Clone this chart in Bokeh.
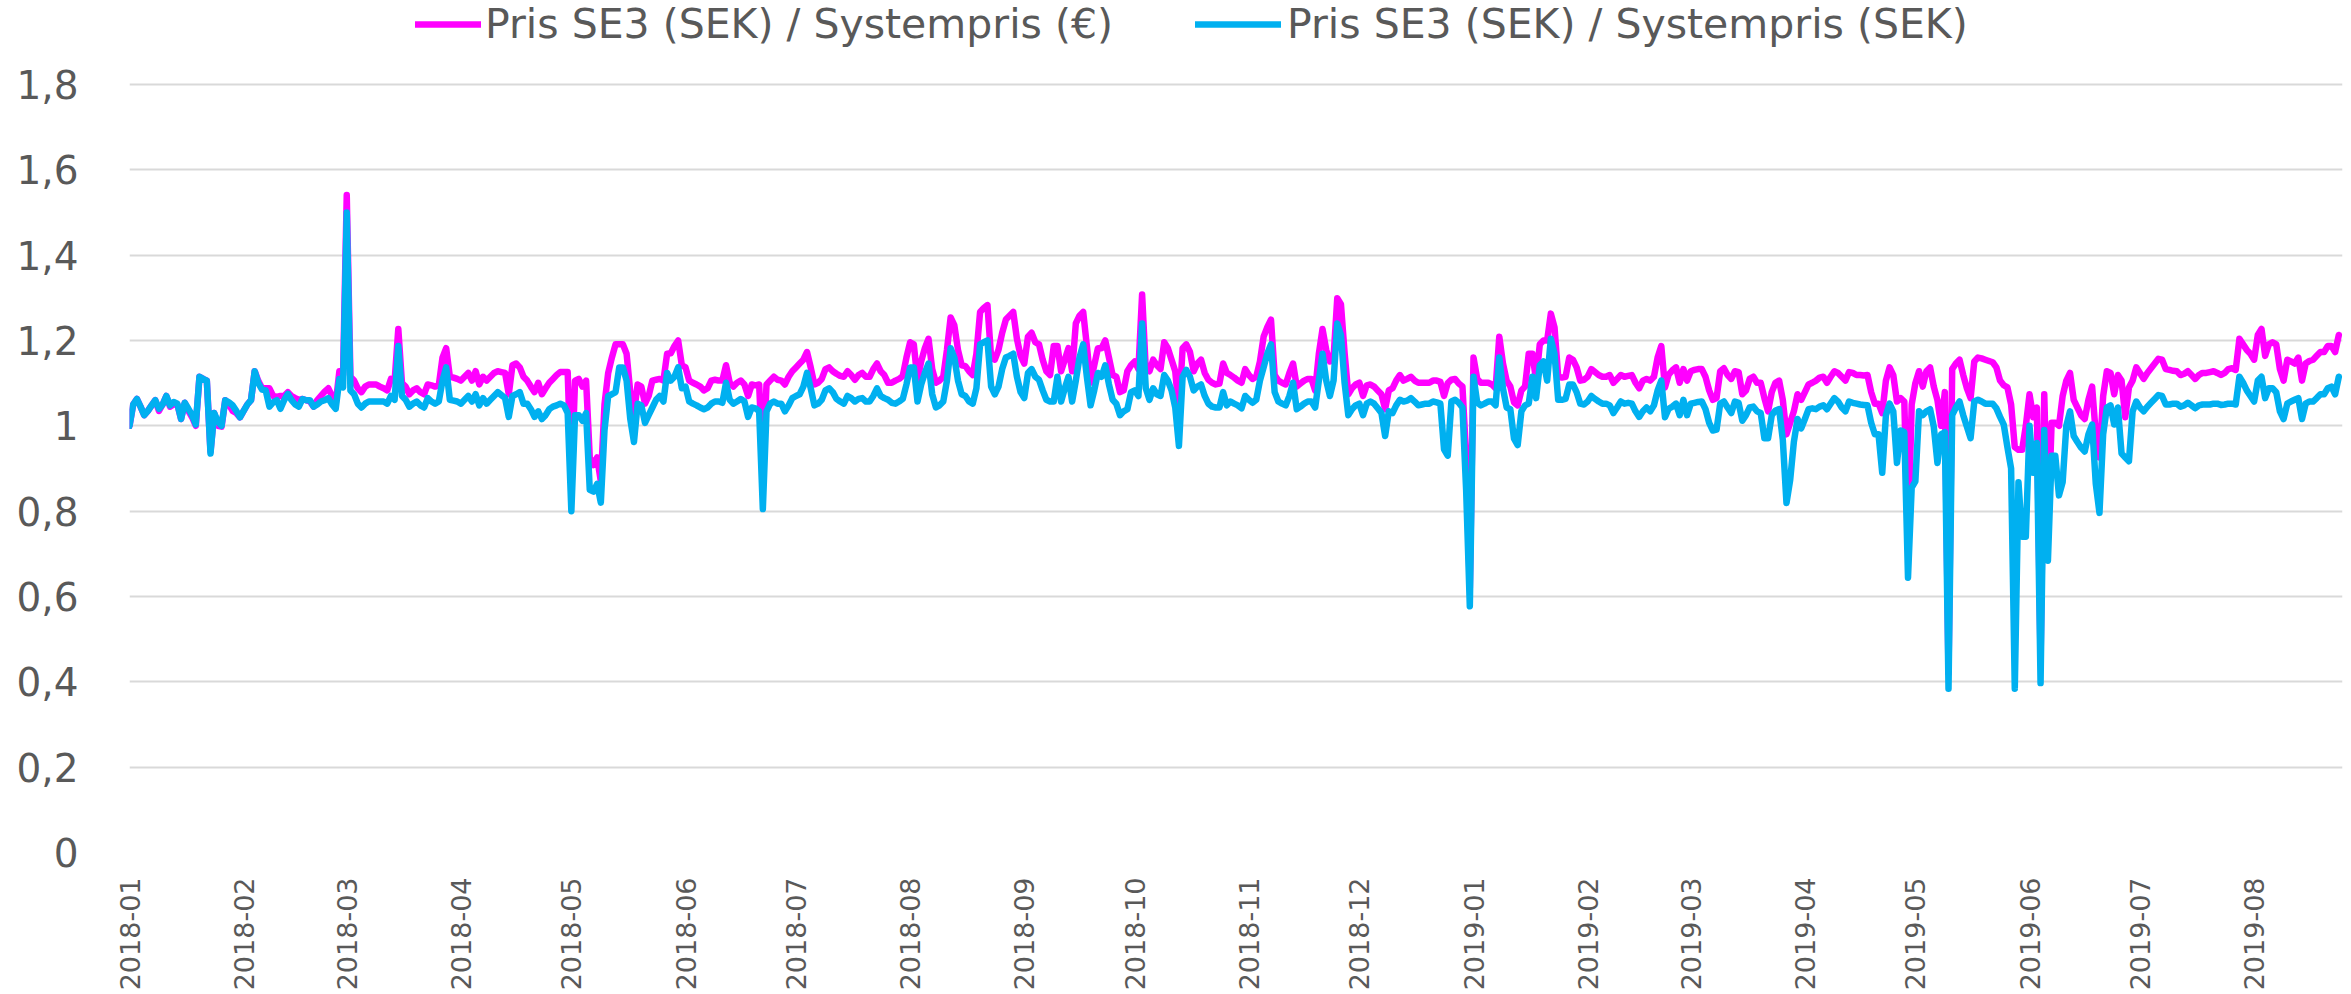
import numpy as np
import pandas as pd
from bokeh.plotting import figure
from bokeh.models import (Range1d, FixedTicker, CustomJSTickFormatter, Legend, LegendItem)
from bokeh.embed import file_html
from bokeh.resources import INLINE

# ---------------- data (daily ratios) ----------------
month_labels = ["2018-01", "2018-02", "2018-03", "2018-04", "2018-05", "2018-06",
                "2018-07", "2018-08", "2018-09", "2018-10", "2018-11", "2018-12",
                "2019-01", "2019-02", "2019-03", "2019-04", "2019-05", "2019-06",
                "2019-07", "2019-08"]
y_ticks = [0, 0.2, 0.4, 0.6, 0.8, 1.0, 1.2, 1.4, 1.6, 1.8]
series_names = ["Pris SE3 (SEK) / Systempris (€)", "Pris SE3 (SEK) / Systempris (SEK)"]

# Pris SE3 (SEK) / Systempris (EUR)  -- magenta
eur_2018_01 = [1.00, 1.05, 1.063, 1.045, 1.025, 1.035, 1.048, 1.06, 1.035, 1.05, 1.07, 1.045, 1.05, 1.05, 1.016, 1.054, 1.035, 1.02, 1.0, 1.115, 1.11, 1.106, 0.94, 1.03, 1.0, 0.998, 1.06, 1.05, 1.035, 1.03, 1.02]
eur_2018_02 = [1.035, 1.05, 1.06, 1.128, 1.105, 1.088, 1.088, 1.088, 1.07, 1.068, 1.07, 1.07, 1.079, 1.07, 1.065, 1.061, 1.063, 1.06, 1.057, 1.045, 1.06, 1.07, 1.08, 1.088, 1.07, 1.052, 1.128, 1.12]
eur_2018_03 = [1.541, 1.115, 1.106, 1.088, 1.079, 1.092, 1.097, 1.097, 1.097, 1.092, 1.088, 1.083, 1.11, 1.106, 1.227, 1.10, 1.092, 1.074, 1.083, 1.088, 1.079, 1.074, 1.097, 1.095, 1.092, 1.095, 1.16, 1.182, 1.115, 1.113, 1.11]
eur_2018_04 = [1.106, 1.115, 1.124, 1.106, 1.128, 1.097, 1.115, 1.106, 1.115, 1.124, 1.128, 1.126, 1.124, 1.074, 1.142, 1.146, 1.137, 1.115, 1.106, 1.092, 1.079, 1.101, 1.074, 1.088, 1.101, 1.11, 1.119, 1.126, 1.126, 1.126]
eur_2018_05 = [0.86, 1.106, 1.11, 1.092, 1.106, 0.926, 0.908, 0.926, 0.87, 1.05, 1.124, 1.16, 1.191, 1.191, 1.191, 1.169, 1.079, 1.03, 1.097, 1.092, 1.052, 1.07, 1.106, 1.108, 1.11, 1.106, 1.169, 1.17, 1.187, 1.2, 1.142]
eur_2018_06 = [1.137, 1.106, 1.101, 1.097, 1.092, 1.083, 1.088, 1.106, 1.108, 1.106, 1.106, 1.142, 1.101, 1.092, 1.101, 1.106, 1.097, 1.07, 1.097, 1.095, 1.097, 0.90, 1.097, 1.106, 1.115, 1.108, 1.106, 1.097, 1.115, 1.128]
eur_2018_07 = [1.137, 1.146, 1.155, 1.173, 1.137, 1.097, 1.101, 1.11, 1.133, 1.137, 1.128, 1.122, 1.117, 1.115, 1.128, 1.119, 1.108, 1.119, 1.124, 1.115, 1.115, 1.133, 1.146, 1.128, 1.119, 1.101, 1.101, 1.106, 1.11, 1.117, 1.16]
eur_2018_08 = [1.196, 1.191, 1.106, 1.151, 1.182, 1.204, 1.133, 1.101, 1.106, 1.115, 1.178, 1.254, 1.236, 1.178, 1.142, 1.14, 1.128, 1.119, 1.169, 1.267, 1.276, 1.283, 1.16, 1.155, 1.178, 1.218, 1.249, 1.258, 1.267, 1.204, 1.164]
eur_2018_09 = [1.146, 1.209, 1.218, 1.196, 1.191, 1.155, 1.128, 1.119, 1.187, 1.187, 1.128, 1.155, 1.182, 1.128, 1.24, 1.258, 1.267, 1.187, 1.101, 1.142, 1.182, 1.182, 1.2, 1.16, 1.119, 1.115, 1.079, 1.083, 1.128, 1.142]
eur_2018_10 = [1.151, 1.133, 1.308, 1.133, 1.128, 1.155, 1.142, 1.133, 1.196, 1.182, 1.155, 1.128, 1.034, 1.182, 1.191, 1.173, 1.128, 1.146, 1.155, 1.124, 1.108, 1.101, 1.097, 1.099, 1.146, 1.124, 1.119, 1.113, 1.106, 1.101, 1.133]
eur_2018_11 = [1.119, 1.11, 1.115, 1.151, 1.209, 1.231, 1.249, 1.119, 1.106, 1.101, 1.097, 1.124, 1.146, 1.092, 1.099, 1.106, 1.11, 1.11, 1.083, 1.169, 1.227, 1.178, 1.151, 1.16, 1.299, 1.285, 1.17, 1.074, 1.088, 1.097]
eur_2018_12 = [1.101, 1.07, 1.095, 1.097, 1.092, 1.083, 1.074, 1.039, 1.083, 1.088, 1.106, 1.119, 1.106, 1.11, 1.115, 1.106, 1.101, 1.101, 1.101, 1.101, 1.106, 1.106, 1.103, 1.07, 1.10, 1.108, 1.11, 1.099, 1.092, 0.93, 0.62]
eur_2019_01 = [1.16, 1.11, 1.101, 1.101, 1.101, 1.097, 1.088, 1.209, 1.146, 1.106, 1.092, 1.055, 1.048, 1.083, 1.092, 1.169, 1.169, 1.106, 1.191, 1.2, 1.2, 1.263, 1.231, 1.115, 1.113, 1.115, 1.16, 1.155, 1.137, 1.106, 1.108]
eur_2019_02 = [1.115, 1.133, 1.126, 1.119, 1.115, 1.115, 1.119, 1.101, 1.11, 1.119, 1.115, 1.117, 1.119, 1.101, 1.088, 1.106, 1.11, 1.106, 1.115, 1.16, 1.187, 1.09, 1.12, 1.13, 1.137, 1.101, 1.133, 1.106]
eur_2019_03 = [1.128, 1.131, 1.133, 1.133, 1.115, 1.083, 1.061, 1.065, 1.128, 1.135, 1.119, 1.11, 1.128, 1.126, 1.074, 1.083, 1.11, 1.115, 1.101, 1.101, 1.065, 1.034, 1.079, 1.101, 1.106, 1.061, 0.98, 1.007, 1.034, 1.074, 1.061]
eur_2019_04 = [1.079, 1.097, 1.101, 1.106, 1.113, 1.115, 1.101, 1.115, 1.128, 1.124, 1.115, 1.106, 1.126, 1.124, 1.119, 1.119, 1.118, 1.119, 1.079, 1.052, 1.052, 1.03, 1.106, 1.137, 1.119, 1.057, 1.065, 1.057, 0.72, 1.05]
eur_2019_05 = [1.10, 1.128, 1.092, 1.128, 1.137, 1.092, 1.06, 1.0, 1.079, 0.42, 1.133, 1.146, 1.155, 1.119, 1.088, 1.065, 1.151, 1.16, 1.158, 1.155, 1.152, 1.149, 1.137, 1.106, 1.095, 1.09, 1.05, 0.95, 0.944, 0.944, 1.0]
eur_2019_06 = [1.074, 1.02, 1.043, 0.45, 1.074, 0.75, 1.007, 1.007, 1.0, 1.07, 1.106, 1.124, 1.061, 1.043, 1.025, 1.016, 1.061, 1.092, 0.98, 0.926, 1.07, 1.128, 1.124, 1.074, 1.119, 1.106, 1.02, 1.09, 1.106, 1.137]
eur_2019_07 = [1.124, 1.11, 1.124, 1.135, 1.146, 1.157, 1.155, 1.133, 1.131, 1.129, 1.128, 1.119, 1.122, 1.128, 1.119, 1.11, 1.119, 1.124, 1.124, 1.126, 1.128, 1.124, 1.119, 1.124, 1.133, 1.135, 1.131, 1.204, 1.191, 1.178, 1.169]
eur_2019_08 = [1.155, 1.213, 1.227, 1.164, 1.191, 1.196, 1.191, 1.133, 1.106, 1.155, 1.151, 1.146, 1.16, 1.106, 1.146, 1.152, 1.155, 1.164, 1.173, 1.173, 1.187, 1.187, 1.173, 1.213]

# Pris SE3 (SEK) / Systempris (SEK)  -- blue
sek_2018_01 = [1.00, 1.05, 1.063, 1.045, 1.025, 1.035, 1.048, 1.06, 1.04, 1.05, 1.07, 1.048, 1.056, 1.052, 1.016, 1.054, 1.04, 1.025, 1.003, 1.115, 1.11, 1.106, 0.935, 1.03, 1.01, 1.00, 1.06, 1.055, 1.048, 1.035, 1.02]
sek_2018_02 = [1.035, 1.05, 1.06, 1.128, 1.10, 1.085, 1.083, 1.045, 1.055, 1.06, 1.04, 1.06, 1.075, 1.06, 1.05, 1.045, 1.063, 1.06, 1.06, 1.045, 1.05, 1.057, 1.06, 1.065, 1.05, 1.04, 1.11, 1.09]
sek_2018_03 = [1.50, 1.083, 1.074, 1.052, 1.043, 1.052, 1.057, 1.057, 1.057, 1.057, 1.057, 1.052, 1.07, 1.061, 1.187, 1.07, 1.061, 1.045, 1.052, 1.057, 1.048, 1.043, 1.065, 1.057, 1.052, 1.057, 1.106, 1.137, 1.061, 1.059, 1.057]
sek_2018_04 = [1.052, 1.061, 1.07, 1.057, 1.074, 1.048, 1.065, 1.052, 1.061, 1.07, 1.079, 1.072, 1.065, 1.021, 1.07, 1.074, 1.079, 1.052, 1.052, 1.039, 1.021, 1.034, 1.016, 1.025, 1.039, 1.045, 1.048, 1.052, 1.048, 1.03]
sek_2018_05 = [0.80, 1.025, 1.025, 1.012, 1.03, 0.85, 0.846, 0.864, 0.82, 0.99, 1.07, 1.074, 1.079, 1.137, 1.137, 1.106, 1.016, 0.962, 1.052, 1.048, 1.007, 1.025, 1.043, 1.061, 1.07, 1.057, 1.124, 1.106, 1.115, 1.137, 1.088]
sek_2018_06 = [1.092, 1.057, 1.052, 1.048, 1.043, 1.039, 1.043, 1.052, 1.057, 1.057, 1.054, 1.101, 1.061, 1.052, 1.057, 1.063, 1.057, 1.021, 1.043, 1.041, 1.034, 0.805, 1.034, 1.052, 1.057, 1.052, 1.052, 1.034, 1.048, 1.065]
sek_2018_07 = [1.07, 1.074, 1.092, 1.124, 1.088, 1.048, 1.052, 1.061, 1.083, 1.088, 1.079, 1.063, 1.057, 1.052, 1.07, 1.065, 1.057, 1.063, 1.065, 1.057, 1.057, 1.07, 1.088, 1.07, 1.065, 1.061, 1.054, 1.052, 1.057, 1.063, 1.097]
sek_2018_08 = [1.137, 1.137, 1.057, 1.097, 1.124, 1.146, 1.074, 1.043, 1.048, 1.057, 1.106, 1.182, 1.16, 1.106, 1.074, 1.07, 1.057, 1.052, 1.088, 1.191, 1.196, 1.2, 1.092, 1.074, 1.092, 1.133, 1.16, 1.164, 1.169, 1.115, 1.079]
sek_2018_09 = [1.065, 1.124, 1.133, 1.115, 1.108, 1.083, 1.061, 1.057, 1.057, 1.115, 1.057, 1.088, 1.115, 1.057, 1.106, 1.16, 1.191, 1.115, 1.048, 1.083, 1.124, 1.115, 1.142, 1.097, 1.061, 1.052, 1.025, 1.034, 1.039, 1.079]
sek_2018_10 = [1.083, 1.07, 1.24, 1.088, 1.061, 1.088, 1.074, 1.07, 1.119, 1.106, 1.083, 1.043, 0.953, 1.115, 1.131, 1.115, 1.083, 1.092, 1.097, 1.07, 1.052, 1.045, 1.043, 1.043, 1.079, 1.048, 1.057, 1.052, 1.048, 1.041, 1.07]
sek_2018_11 = [1.061, 1.054, 1.061, 1.106, 1.137, 1.169, 1.191, 1.079, 1.057, 1.052, 1.048, 1.07, 1.101, 1.039, 1.045, 1.052, 1.057, 1.057, 1.043, 1.106, 1.169, 1.106, 1.07, 1.106, 1.24, 1.213, 1.10, 1.025, 1.039, 1.048]
sek_2018_12 = [1.052, 1.025, 1.052, 1.057, 1.052, 1.041, 1.03, 0.976, 1.034, 1.03, 1.048, 1.061, 1.057, 1.059, 1.065, 1.057, 1.048, 1.05, 1.052, 1.052, 1.057, 1.055, 1.052, 0.945, 0.93, 1.057, 1.061, 1.054, 1.043, 0.85, 0.577]
sek_2019_01 = [1.115, 1.055, 1.048, 1.052, 1.057, 1.057, 1.048, 1.16, 1.088, 1.043, 1.039, 0.97, 0.955, 1.034, 1.048, 1.052, 1.115, 1.065, 1.142, 1.151, 1.106, 1.204, 1.169, 1.061, 1.061, 1.063, 1.097, 1.097, 1.079, 1.052, 1.05]
sek_2019_02 = [1.057, 1.07, 1.063, 1.057, 1.052, 1.052, 1.048, 1.03, 1.043, 1.057, 1.052, 1.054, 1.052, 1.034, 1.021, 1.034, 1.043, 1.034, 1.048, 1.083, 1.106, 1.02, 1.04, 1.045, 1.052, 1.025, 1.061, 1.025]
sek_2019_03 = [1.052, 1.054, 1.056, 1.057, 1.039, 1.007, 0.989, 0.991, 1.052, 1.057, 1.043, 1.03, 1.057, 1.054, 1.012, 1.025, 1.043, 1.045, 1.034, 1.03, 0.971, 0.971, 1.025, 1.036, 1.039, 0.967, 0.819, 0.873, 0.962, 1.016, 0.994]
sek_2019_04 = [1.016, 1.039, 1.041, 1.039, 1.045, 1.048, 1.039, 1.052, 1.065, 1.057, 1.043, 1.034, 1.057, 1.054, 1.052, 1.05, 1.049, 1.048, 1.007, 0.98, 0.98, 0.89, 1.025, 1.052, 1.034, 0.913, 0.989, 0.985, 0.644, 0.855]
sek_2019_05 = [0.87, 1.034, 1.025, 1.034, 1.039, 0.998, 0.913, 0.98, 0.985, 0.384, 1.025, 1.043, 1.057, 1.025, 0.998, 0.971, 1.057, 1.061, 1.057, 1.052, 1.052, 1.052, 1.041, 1.021, 1.003, 0.95, 0.90, 0.384, 0.868, 0.74, 0.74]
sek_2019_06 = [1.0, 0.89, 0.96, 0.397, 0.99, 0.684, 0.93, 0.93, 0.837, 0.868, 1.0, 1.034, 0.976, 0.962, 0.949, 0.94, 0.98, 1.003, 0.864, 0.796, 0.98, 1.043, 1.048, 1.003, 1.043, 0.935, 0.926, 0.917, 1.034, 1.057]
sek_2019_07 = [1.043, 1.034, 1.045, 1.054, 1.063, 1.072, 1.07, 1.05, 1.05, 1.052, 1.052, 1.045, 1.048, 1.054, 1.048, 1.041, 1.048, 1.05, 1.05, 1.05, 1.052, 1.052, 1.049, 1.05, 1.052, 1.052, 1.05, 1.115, 1.101, 1.083, 1.07]
sek_2019_08 = [1.057, 1.106, 1.115, 1.065, 1.088, 1.088, 1.079, 1.034, 1.016, 1.052, 1.057, 1.061, 1.065, 1.016, 1.052, 1.057, 1.057, 1.065, 1.074, 1.074, 1.088, 1.092, 1.074, 1.115]

eur_months = [eur_2018_01, eur_2018_02, eur_2018_03, eur_2018_04, eur_2018_05, eur_2018_06,
              eur_2018_07, eur_2018_08, eur_2018_09, eur_2018_10, eur_2018_11, eur_2018_12,
              eur_2019_01, eur_2019_02, eur_2019_03, eur_2019_04, eur_2019_05, eur_2019_06,
              eur_2019_07, eur_2019_08]
sek_months = [sek_2018_01, sek_2018_02, sek_2018_03, sek_2018_04, sek_2018_05, sek_2018_06,
              sek_2018_07, sek_2018_08, sek_2018_09, sek_2018_10, sek_2018_11, sek_2018_12,
              sek_2019_01, sek_2019_02, sek_2019_03, sek_2019_04, sek_2019_05, sek_2019_06,
              sek_2019_07, sek_2019_08]


def build(months_vals):
    xs, ys = [], []
    for lab, vals in zip(month_labels, months_vals):
        start = pd.Timestamp(lab + "-01")
        for i, v in enumerate(vals):
            xs.append(start + pd.Timedelta(days=i))
            ys.append(v)
    return xs, ys


x_eur, y_eur = build(eur_months)
x_sek, y_sek = build(sek_months)

# ---------------- figure ----------------
TEXT = "#595959"
FONT = "DejaVu Sans"

# The page template puts the canvas at (0, 0).
# Plot frame: x 129..2342, y 0..852 (value 1.8 sits at y = 84, leaving room for the legend).
W, H = 2350, 993
p = figure(width=W, height=H, x_axis_type="datetime", title=None,
           output_backend="svg", toolbar_location=None,
           min_border_left=129, min_border_right=W - 2342,
           min_border_top=0, min_border_bottom=H - 852,
           background_fill_color="white", border_fill_color="white")
p.outline_line_color = None

p.x_range = Range1d(start=pd.Timestamp("2018-01-01"), end=pd.Timestamp("2019-08-25"))
y_top = 1.8 + 84 * 1.8 / (852 - 84)
p.y_range = Range1d(start=0, end=y_top)

r_eur = p.line(x_eur, y_eur, line_color="#FF00FF", line_width=6.5,
               line_join="round", line_cap="round")
r_sek = p.line(x_sek, y_sek, line_color="#00B0F0", line_width=6.5,
               line_join="round", line_cap="round")

# y axis
p.yaxis.ticker = FixedTicker(ticks=y_ticks)
p.yaxis.formatter = CustomJSTickFormatter(code="""
    const s = tick.toFixed(1);
    return s.endsWith('.0') ? s.slice(0, -2) : s.replace('.', ',');
""")
p.yaxis.axis_line_color = None
p.yaxis.major_tick_line_color = None
p.yaxis.minor_tick_line_color = None
p.yaxis.major_tick_out = 0
p.yaxis.major_tick_in = 0
p.yaxis.major_label_standoff = 51
p.yaxis.major_label_text_font = FONT
p.yaxis.major_label_text_font_size = "39px"
p.yaxis.major_label_text_color = TEXT

# x axis: month starts
tick_ms = [pd.Timestamp(lab + "-01").value / 1e6 for lab in month_labels]
p.xaxis.ticker = FixedTicker(ticks=tick_ms)
p.xaxis.major_label_overrides = {t: lab for t, lab in zip(tick_ms, month_labels)}
p.xaxis.major_label_orientation = np.pi / 2
p.xaxis.axis_line_color = None
p.xaxis.major_tick_line_color = None
p.xaxis.minor_tick_line_color = None
p.xaxis.major_tick_out = 0
p.xaxis.major_tick_in = 0
p.xaxis.major_label_standoff = 25
p.xaxis.major_label_text_font = FONT
p.xaxis.major_label_text_font_size = "27px"
p.xaxis.major_label_text_color = TEXT

# grid (only at the listed ticks, so nothing above 1,8)
p.xgrid.grid_line_color = None
p.ygrid.ticker = FixedTicker(ticks=y_ticks)
p.ygrid.grid_line_color = "#D9D9D9"
p.ygrid.grid_line_width = 2

# legend at the top, inside the (extended) frame: one entry per legend box
common = dict(orientation="horizontal", glyph_height=48, label_height=48,
              padding=0, margin=0, border_line_color=None, background_fill_alpha=0,
              label_text_font=FONT, label_text_font_size="41px", label_text_color=TEXT)
leg1 = Legend(items=[LegendItem(label=series_names[0], renderers=[r_eur])],
              location=(415 - 129, 852 - 48), glyph_width=66, label_standoff=4, **common)
leg2 = Legend(items=[LegendItem(label=series_names[1], renderers=[r_sek])],
              location=(1195 - 129, 852 - 48), glyph_width=86, label_standoff=6, **common)
p.add_layout(leg1)
p.add_layout(leg2)

open("out.html", "w").write(file_html(p, INLINE))
